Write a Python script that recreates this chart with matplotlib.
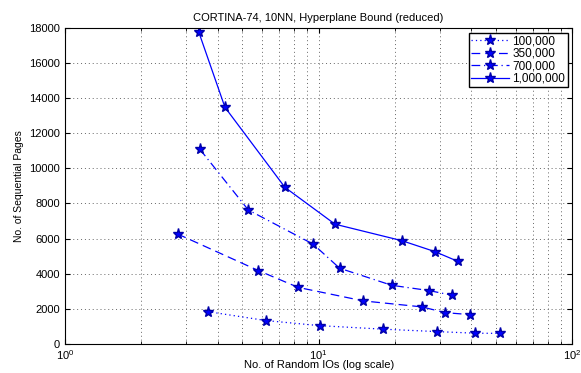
import numpy as np
import matplotlib
matplotlib.use('Agg')
import matplotlib.pyplot as plt
from matplotlib.ticker import LogLocator, NullFormatter

plt.rcParams['font.family'] = ['Liberation Sans', 'DejaVu Sans']

# data
x_100k = [3.65, 6.2, 10.1, 17.9, 29.4, 41.5, 52.1]
y_100k = [1840, 1330, 1040, 840, 700, 610, 600]

x_350k = [2.78, 5.78, 8.3, 15.0, 25.5, 31.6, 39.5]
y_350k = [6260, 4180, 3220, 2450, 2110, 1780, 1670]

x_700k = [3.4, 5.28, 9.52, 12.1, 19.4, 27.2, 33.7]
y_700k = [11090, 7630, 5680, 4310, 3340, 3040, 2770]

x_1m = [3.37, 4.27, 7.36, 11.6, 21.3, 28.7, 35.3]
y_1m = [17750, 13480, 8920, 6820, 5880, 5260, 4710]

labels = ['100,000', '350,000', '700,000', '1,000,000']

fig = plt.figure(figsize=(5.81, 3.73), dpi=100)
ax = fig.add_axes([0.112, 0.078, 0.873, 0.847])

mk = dict(marker='*', markersize=8, color='blue', markerfacecolor='blue',
          markeredgecolor='#0000aa', linewidth=0.9)
ax.plot(x_100k, y_100k, linestyle=(0, (1, 2.5)), label=labels[0], **mk)
ax.plot(x_350k, y_350k, linestyle=(0, (7, 4)), label=labels[1], **mk)
ax.plot(x_700k, y_700k, linestyle=(0, (7, 3, 1, 3)), label=labels[2], **mk)
ax.plot(x_1m, y_1m, linestyle='-', label=labels[3], **mk)

ax.set_xscale('log')
ax.set_xlim(1, 100)
ax.set_ylim(0, 18000)
ax.set_yticks(np.arange(0, 18001, 2000))
ax.xaxis.set_minor_locator(LogLocator(base=10, subs=np.arange(2, 10)))
ax.xaxis.set_minor_formatter(NullFormatter())

ax.grid(True, which='major', linestyle=(0, (1, 3)), color='#666666', linewidth=0.7)
ax.grid(True, which='minor', axis='x', linestyle=(0, (1, 3)), color='#666666', linewidth=0.7)
ax.tick_params(direction='in', which='both', labelsize=8, top=True, right=True)
ax.tick_params(axis='x', pad=3)
for s in ax.spines.values():
    s.set_linewidth(0.8)

ax.set_title('CORTINA-74, 10NN, Hyperplane Bound (reduced)', fontsize=8, pad=5)
ax.set_xlabel('No. of Random IOs (log scale)', fontsize=8, labelpad=-1)
ax.set_ylabel('No. of Sequential Pages', fontsize=7.5, labelpad=4)

leg = ax.legend(loc='upper right', fontsize=8.5, fancybox=False, framealpha=1,
                edgecolor='black', handlelength=3.2, borderpad=0.2,
                labelspacing=0.05, handletextpad=0.3, borderaxespad=0.4)
leg.get_frame().set_linewidth(1.0)

fig.savefig('out.png', dpi=100)
